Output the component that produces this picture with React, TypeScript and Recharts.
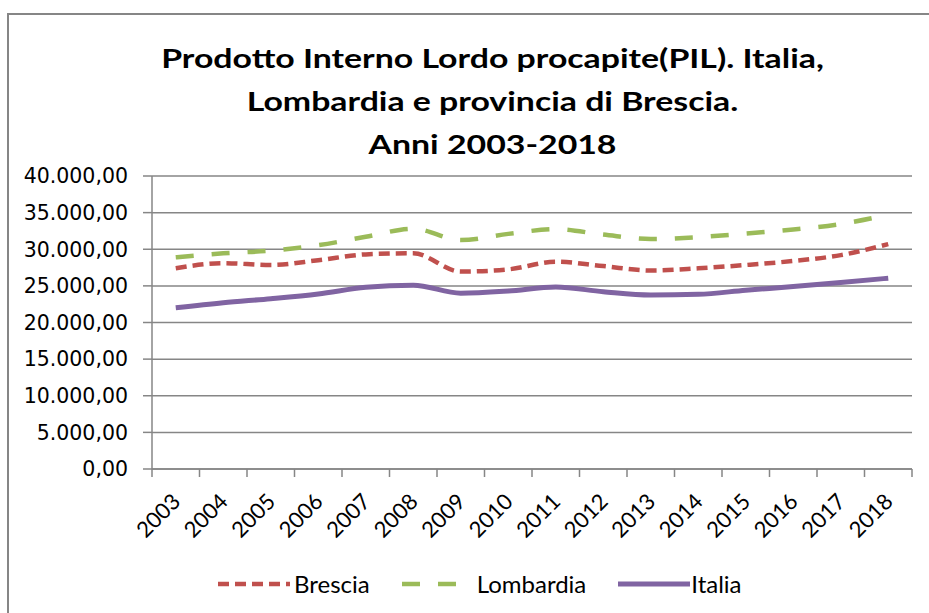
import { LineChart, Line, XAxis, YAxis, CartesianGrid, Legend } from "recharts";

const years = ["2003", "2004", "2005", "2006", "2007", "2008", "2009", "2010", "2011", "2012", "2013", "2014", "2015", "2016", "2017", "2018"];
const brescia = [27400, 28100, 27850, 28500, 29300, 29450, 26950, 27250, 28300, 27700, 27100, 27400, 27850, 28400, 29200, 30700];
const lombardia = [28900, 29450, 29800, 30550, 31700, 32800, 31250, 32100, 32750, 32000, 31400, 31650, 32150, 32700, 33450, 34700];
const italia = [22000, 22700, 23250, 23900, 24800, 25100, 24000, 24300, 24850, 24200, 23750, 23850, 24400, 24900, 25450, 26050];
const yTicks = [0, 5000, 10000, 15000, 20000, 25000, 30000, 35000, 40000];

const data = years.map((y, i) => ({
  year: y,
  Brescia: brescia[i],
  Lombardia: lombardia[i],
  Italia: italia[i],
}));

const series = [
  { key: "Brescia", color: "#C0504D", dash: "11 6", width: 4.5, sample: 72, gap: 4 },
  { key: "Lombardia", color: "#9BBB59", dash: "18 18", width: 4.5, sample: 54, gap: 21 },
  { key: "Italia", color: "#8064A2", dash: undefined, width: 5, sample: 72, gap: 1 },
];

const GRAY = "#868686";

const fmt = (v: number) =>
  Math.round(v).toString().replace(/\B(?=(\d{3})+(?!\d))/g, ".") + ",00";

const YearTick = (props: any) => {
  const { x, y, payload, index, visibleTicksCount } = props;
  const half = payload.offset ?? 0;
  const last = index === visibleTicksCount - 1;
  return (
    <g>
      <line x1={x - half} x2={x - half} y1={y} y2={y + 8} stroke={GRAY} strokeWidth={1.5} />
      {last && <line x1={x + half} x2={x + half} y1={y} y2={y + 8} stroke={GRAY} strokeWidth={1.5} />}
      <text
        transform={`translate(${x + 6},${y + 34}) rotate(-45)`}
        textAnchor="end"
        fontFamily="Lato"
        fontSize={22}
        fill="#000"
      >
        {payload.value}
      </text>
    </g>
  );
};

const LegendContent = () => (
  <div style={{ display: "flex", alignItems: "center", paddingLeft: 218, fontFamily: "Lato", fontSize: 24, color: "#000" }}>
    {series.map((s) => (
      <div key={s.key} style={{ display: "flex", alignItems: "center", marginRight: 32 }}>
        <svg width={s.sample} height={10} style={{ marginRight: s.gap }}>
          <line x1={0} x2={s.sample} y1={5} y2={5} stroke={s.color} strokeWidth={s.width} strokeDasharray={s.dash} />
        </svg>
        <span>{s.key}</span>
      </div>
    ))}
  </div>
);

export default function App() {
  return (
    <div style={{ position: "absolute", left: 0, top: 0, width: 929, height: 613, background: "#fff", overflow: "hidden" }}>
      <div style={{ position: "absolute", left: 7, top: 13, width: 940, height: 620, borderLeft: `2px solid ${GRAY}`, borderTop: `2px solid ${GRAY}` }} />
      <div
        style={{
          position: "absolute",
          left: 60,
          top: 36,
          width: 865,
          textAlign: "center",
          fontFamily: "Lato",
          fontWeight: 700,
          fontSize: 27.5,
          lineHeight: "43px",
          color: "#000",
          transform: "scaleX(1.23)",
          transformOrigin: "50% 0",
        }}
      >
        Prodotto Interno Lordo procapite(PIL). Italia,
        <br />
        Lombardia e provincia di Brescia.
        <br />
        Anni 2003-2018
      </div>
      <div style={{ position: "absolute", left: 0, top: 0 }}>
        <LineChart width={929} height={613} data={data} margin={{ top: 176, right: 17, left: 0, bottom: 64 }}>
          <CartesianGrid vertical={false} stroke={GRAY} strokeWidth={1.5} />
          <XAxis
            dataKey="year"
            scale="band"
            height={80}
            interval={0}
            axisLine={{ stroke: GRAY, strokeWidth: 1.5 }}
            tickLine={false}
            tickSize={0}
            tickMargin={0}
            tick={<YearTick />}
          />
          <YAxis
            width={152}
            domain={[0, 40000]}
            ticks={yTicks}
            tickFormatter={fmt}
            axisLine={{ stroke: GRAY, strokeWidth: 1.5 }}
            tickLine={{ stroke: GRAY, strokeWidth: 1.5 }}
            tickSize={9}
            tickMargin={15}
            tick={{ fill: "#000", fontFamily: "DejaVu Sans", fontSize: 20.5 }}
          />
          {series.map((s) => (
            <Line
              key={s.key}
              type="monotone"
              dataKey={s.key}
              stroke={s.color}
              strokeWidth={s.width}
              strokeDasharray={s.dash}
              dot={false}
              isAnimationActive={false}
            />
          ))}
          <Legend
            verticalAlign="middle"
            align="center"
            content={<LegendContent />}
            wrapperStyle={{ position: "absolute", top: 569, left: 0, width: 929 }}
          />
        </LineChart>
      </div>
    </div>
  );
}
